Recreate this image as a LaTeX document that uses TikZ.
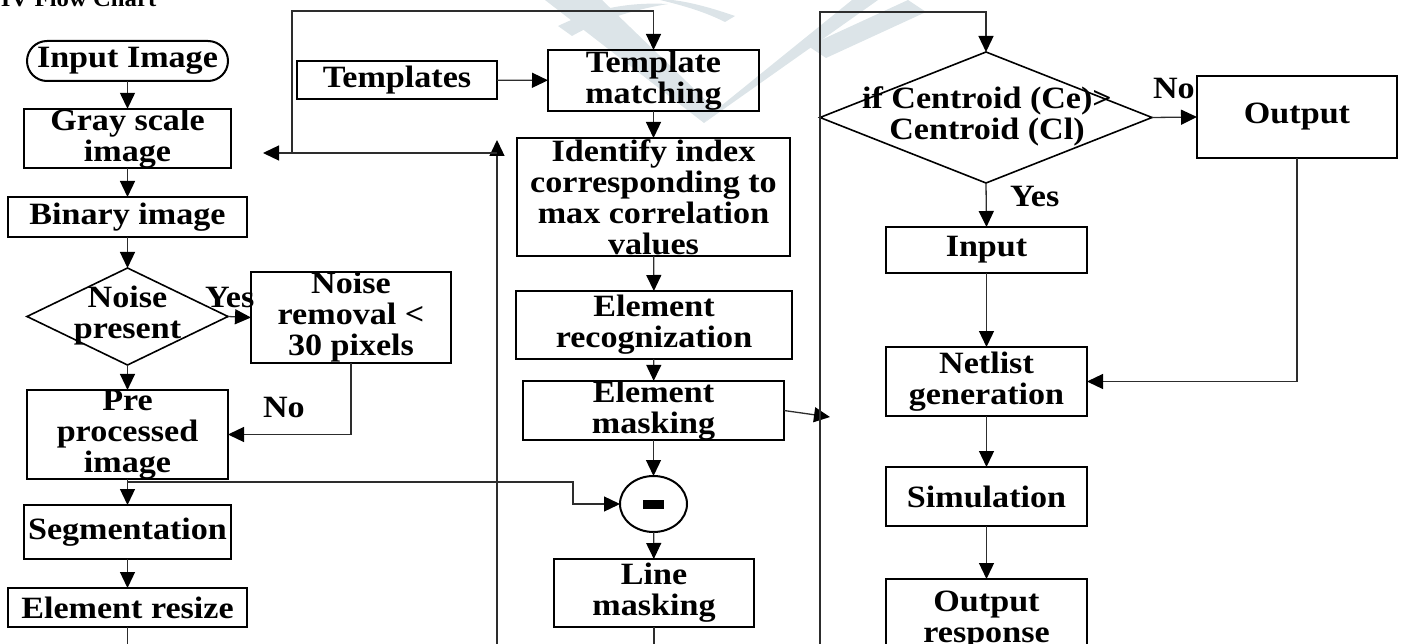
\documentclass[tikz,border=0pt]{standalone}
\usepackage{fontspec}
\newfontfamily\chartfont{Liberation Serif}[FakeStretch=1.1]
\usetikzlibrary{arrows.meta,shapes.geometric}
\definecolor{wmark}{RGB}{220,228,232}
\definecolor{conncol}{RGB}{45,45,45}

\begin{document}
\begin{tikzpicture}[x=1pt,y=-1pt,
  every node/.style={font=\chartfont\bfseries\fontsize{31}{31}\selectfont,
                     inner sep=0pt, outer sep=0pt, align=center},
  box/.style={draw=black, line width=2pt, rectangle},
  stadium/.style={draw=black, line width=2pt, rectangle, rounded corners=20pt},
  decision/.style={draw=black, line width=1.6pt, diamond},
  oper/.style={draw=black, line width=2pt, ellipse},
  lbl/.style={anchor=base west},
  conn/.style={draw=conncol, line width=1.3pt},
  arr/.style={conn, -{Triangle[length=16pt,width=15pt,color=black]}}]

\useasboundingbox (0,0) rectangle (1402,644);

% faint background emblem
\begin{scope}[wmark]
  % broad left stroke of the V
  \fill (545,0) -- (602,0) -- (716,110) -- (704,123) -- cycle;
  % narrow right stroke of the V
  \fill (704,123) -- (716,110) -- (852,0) -- (878,0) -- cycle;
  % small stroke beside the decision box
  \fill (808,46) -- (826,58) -- (926,12) -- (908,0) -- cycle;
  % curved sweep along the top
  \fill (558,26) .. controls (595,8) and (630,2) .. (668,4)
        .. controls (632,10) and (600,20) .. (572,36) -- cycle;
  \fill (660,0) .. controls (685,6) and (705,12) .. (725,22)
        -- (735,16) .. controls (712,8) and (690,2) .. (672,0) -- cycle;
\end{scope}

% section heading (partly above the page edge)
\node[anchor=base west, font=\chartfont\bfseries\fontsize{22.5}{22.5}\selectfont] (title) at (1,7) {IV Flow Chart};

% ---------- left column: preprocessing ----------
\node[stadium, minimum width=201pt, minimum height=40pt] (in) at (127.5,61) {Input Image};
\node[box, minimum width=207pt, minimum height=59pt] (gray) at (127.5,138.5) {Gray scale\\image};
\node[box, minimum width=239pt, minimum height=40pt] (bin) at (127.5,217) {Binary image};
\node[decision, minimum width=201pt, minimum height=97pt] (noise) at (127.5,316.5) {};
\node (noisetxt) at (127.5,316) {Noise\\present};
\node[box, minimum width=200pt, minimum height=83pt] (rem) at (351,317.5) {Noise\\removal <\\30 pixels};
\node[box, minimum width=201pt, minimum height=83pt] (pre) at (127.5,434.5) {Pre\\processed\\image};
\node[box, minimum width=207pt, minimum height=54pt] (seg) at (127.5,532) {Segmentation};
\node[box, minimum width=239pt, minimum height=39pt] (rsz) at (127.5,607.5) {Element resize};

% ---------- middle column: recognition ----------
\node[box, minimum width=200pt, minimum height=38pt] (tpl) at (397,80) {Templates};
\node[box, minimum width=211pt, minimum height=61pt] (tm) at (653.5,80.5) {Template\\matching};
\node[box, minimum width=273pt, minimum height=118pt] (idx) at (653.5,197) {Identify index\\corresponding to\\max correlation\\values};
\node[box, minimum width=276pt, minimum height=68pt] (rec) at (654,325) {Element\\recognization};
\node[box, minimum width=261pt, minimum height=59pt] (msk) at (653.5,410.5) {Element\\masking};
\node[oper, minimum width=67pt, minimum height=56pt] (sub) at (653.5,504) {};
\node[fill=black, minimum width=21pt, minimum height=9pt] (minus) at (sub.center) {};
\node[box, minimum width=200pt, minimum height=68pt] (lm) at (654,593) {Line\\masking};

% ---------- right column: netlist ----------
\node[decision, minimum width=332pt, minimum height=131pt] (dec) at (986,117.5) {};
\node (dectxt) at (987,116) {if Centroid (Ce)>\\Centroid (Cl)};
\node[box, minimum width=200pt, minimum height=82pt] (out) at (1297,117) {Output};
\node[box, minimum width=201pt, minimum height=46pt] (inp) at (986.5,250) {Input};
\node[box, minimum width=201pt, minimum height=69pt] (net) at (986.5,381.5) {Netlist\\generation};
\node[box, minimum width=201pt, minimum height=59pt] (sim) at (986.5,496.5) {Simulation};
\node[box, minimum width=201pt, minimum height=83pt] (resp) at (986.5,620.5) {Output\\response};

% branch labels
\node[lbl] (yes1) at (205,307) {Yes};
\node[lbl] (no1) at (263,417) {No};
\node[lbl] (yes2) at (1010,207) {Yes};
\node[lbl] (no2) at (1153,99) {No};

% ---------- free ends and bends ----------
\coordinate (brk) at (127.5,482);
\coordinate (jog) at (573,504);
\coordinate (rszend) at (127.5,660);
\coordinate (lmend) at (654,660);
\coordinate (upbot) at (497,660);
\coordinate (uptip) at (497,140);
\coordinate (backstart) at (497,153);
\coordinate (backtip) at (263,153);
\coordinate (loopfoot) at (292,153);
\coordinate (looptop) at (292,11);
\coordinate (rightbot) at (820,660);
\coordinate (righttop) at (820,12);
\coordinate (msktip) at (830,417);

% ---------- connectors ----------
\draw[arr] (in) -- (gray);
\draw[arr] (gray) -- (bin);
\draw[arr] (bin) -- (noise.north);
\draw[arr] (noise.east) -- (rem.west);
\draw[arr] (noise.south) -- (pre.north);
\draw[arr] (rem.south) |- (pre.east);
\draw[arr] (pre) -- (seg);
\draw[arr] (seg) -- (rsz);
\draw[conn] (rsz) -- (rszend);
\draw[arr] (brk) -| (jog) -- (sub.west);

\draw[arr] (tpl) -- (tm);
\draw[arr] (tm) -- (idx);
\draw[arr] (idx) -- (rec);
\draw[arr] (rec) -- (msk);
\draw[arr] (msk) -- (sub);
\draw[arr] (sub) -- (lm);
\draw[conn] (lm) -- (lmend);
\draw[arr] (msk.east) -- (msktip);

\draw[arr] (upbot) -- (uptip);
\draw[arr] (backstart) -- (backtip);
\draw[arr] (loopfoot) -- (looptop) -| (tm.north);

\draw[arr] (rightbot) -- (righttop) -| (dec.north);
\draw[arr] (dec.east) -- (out.west);
\draw[arr] (dec.south) -- (inp.north);
\draw[arr] (inp) -- (net);
\draw[arr] (out.south) |- (net.east);
\draw[arr] (net) -- (sim);
\draw[arr] (sim) -- (resp);
\end{tikzpicture}
\end{document}
